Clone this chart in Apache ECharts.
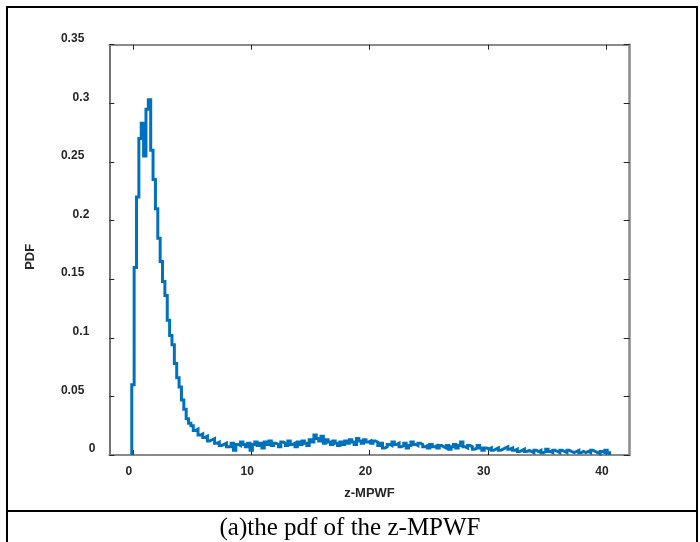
<!DOCTYPE html>
<html>
<head>
<meta charset="utf-8">
<script src="https://cdn.jsdelivr.net/npm/echarts@6/dist/echarts.min.js"></script>
<style>
html,body{margin:0;padding:0;background:#fff;}
#chart{width:700px;height:542px;}
</style>
</head>
<body>
<div id="chart"></div>
<script>
// Histogram (PDF) of z-MPWF: bins start at binStart, each binWidth wide
const binStart = -0.1;
const binWidth = 0.2;
const pdfHead = [
  0.06, 0.16, 0.22, 0.27, 0.283, 0.255, 0.295, 0.303, 0.26, 0.235,
  0.21, 0.185, 0.165, 0.148, 0.136, 0.115, 0.102, 0.094, 0.078, 0.066,
  0.058, 0.047, 0.039, 0.031, 0.027, 0.025, 0.021, 0.022, 0.017, 0.018,
  0.015, 0.016, 0.012, 0.013, 0.014, 0.010, 0.011, 0.008, 0.009, 0.010,
  0.007
];
const pdfTail = [
  0.007, 0.010, 0.004, 0.009, 0.008, 0.011, 0.009, 0.007, 0.010, 0.004,
  0.009, 0.011, 0.008, 0.010, 0.006, 0.011, 0.009, 0.012, 0.008, 0.010,
  0.009, 0.007, 0.011, 0.010, 0.008, 0.012, 0.009, 0.010, 0.007, 0.011,
  0.009, 0.012, 0.010, 0.008, 0.013, 0.011, 0.017, 0.014, 0.012, 0.016,
  0.010, 0.013, 0.011, 0.009, 0.012, 0.010, 0.008, 0.011, 0.009, 0.012,
  0.010, 0.013, 0.011, 0.009, 0.014, 0.012, 0.010, 0.013, 0.011, 0.012,
  0.010, 0.012, 0.011, 0.008, 0.010, 0.006, 0.007, 0.009, 0.008, 0.011,
  0.009, 0.010, 0.007, 0.008, 0.010, 0.006, 0.008, 0.011, 0.009, 0.008,
  0.010, 0.009, 0.007, 0.008, 0.006, 0.009, 0.007, 0.008, 0.006, 0.008,
  0.007, 0.006, 0.008, 0.005, 0.007, 0.009, 0.006, 0.008, 0.011, 0.007,
  0.006, 0.008, 0.007, 0.005, 0.006, 0.008, 0.006, 0.004, 0.006, 0.005,
  0.006, 0.004, 0.005, 0.006, 0.004, 0.005, 0.006, 0.007, 0.005, 0.006,
  0.004, 0.005, 0.003, 0.004, 0.005, 0.003, 0.004, 0.003, 0.002, 0.004,
  0.003, 0.004, 0.002, 0.003, 0.005, 0.003, 0.002, 0.004, 0.003, 0.002,
  0.004, 0.003, 0.002, 0.004, 0.003, 0.002, 0.003, 0.004, 0.002, 0.003,
  0.002, 0.003, 0.002, 0.004, 0.003, 0.002, 0.001, 0.003, 0.002, 0.004,
  0.002
];
const pdfValues = pdfHead.concat(pdfTail);

const xTickValues = [0, 10, 20, 30, 40];
const xTickLabels = ['0', '10', '20', '30', '40'];
const yTickLabels = ['0', '0.05', '0.1', '0.15', '0.2', '0.25', '0.3', '0.35'];
const xAxisTitle = 'z-MPWF';
const yAxisTitle = 'PDF';
const captionText = '(a)the pdf of the z-MPWF';

// stair points: left edge of each bin, closing at the last right edge
const stairData = [[binStart, 0]];
pdfValues.forEach((v, i) => stairData.push([binStart + i * binWidth, v]));
stairData.push([binStart + pdfValues.length * binWidth, 0]);

const sansFont = 'Liberation Sans, Arial, sans-serif';
const labelColor = '#262626';

const chart = echarts.init(document.getElementById('chart'), null, {renderer: 'canvas'});

function yLabel(value) {
  const s = yTickLabels[Math.round(value / 0.05)] || '';
  return '{l' + s.length + '|' + s + '}';
}
const richBase = {fontFamily: sansFont, fontWeight: 'bold', fontSize: 12, color: labelColor};

chart.setOption({
  animation: false,
  backgroundColor: '#fff',
  title: {
    text: captionText,
    left: 'center',
    top: 511,
    textStyle: {fontFamily: 'Liberation Serif, Times New Roman, serif', fontWeight: 'normal', fontSize: 25, color: '#000'}
  },
  graphic: [
    {type: 'rect', shape: {x: 7, y: 7, width: 690, height: 560}, style: {fill: 'none', stroke: '#000', lineWidth: 2}, silent: true},
    {type: 'line', shape: {x1: 7, y1: 511, x2: 697, y2: 511}, style: {stroke: '#000', lineWidth: 2}, silent: true}
  ],
  grid: {left: 109.3, top: 44.7, right: 70.3, bottom: 87, containLabel: false},
  xAxis: [
    {
      type: 'value', position: 'bottom', min: -2, max: 42,
      name: xAxisTitle, nameLocation: 'middle', nameGap: 32,
      nameTextStyle: {fontFamily: sansFont, fontWeight: 'bold', fontSize: 13, color: labelColor},
      axisLine: {show: true, onZero: false, lineStyle: {color: '#8a8a8a', width: 2}},
      axisTick: {show: true, inside: true, length: 5, customValues: xTickValues, lineStyle: {color: labelColor, width: 1}},
      axisLabel: {
        show: true, margin: 11, customValues: xTickValues,
        formatter: v => xTickLabels[xTickValues.indexOf(v)] || '',
        fontFamily: sansFont, fontWeight: 'bold', fontSize: 12, color: labelColor,
        padding: [0, 8, 0, 0]
      },
      splitLine: {show: false}
    },
    {
      type: 'value', position: 'top', min: -2, max: 42,
      axisLine: {show: true, onZero: false, lineStyle: {color: '#8a8a8a', width: 2}},
      axisTick: {show: true, inside: true, length: 5, customValues: xTickValues, lineStyle: {color: labelColor, width: 1}},
      axisLabel: {show: false},
      splitLine: {show: false}
    }
  ],
  yAxis: [
    {
      type: 'value', position: 'left', min: 0, max: 0.35, interval: 0.05,
      name: yAxisTitle, nameLocation: 'middle', nameGap: 72, nameRotate: 90,
      nameTextStyle: {fontFamily: sansFont, fontWeight: 'bold', fontSize: 13, color: labelColor, padding: [0, 14, 0, 0]},
      axisLine: {show: true, onZero: false, lineStyle: {color: '#444', width: 1.5}},
      axisTick: {show: true, inside: true, length: 5, lineStyle: {color: labelColor, width: 1}},
      axisLabel: {
        show: true, margin: 14, align: 'right', formatter: yLabel,
        rich: {
          l1: Object.assign({padding: [0, 0, 12, 0]}, richBase),
          l3: Object.assign({padding: [0, 6, 12, 0]}, richBase),
          l4: Object.assign({padding: [0, 11, 12, 0]}, richBase)
        }
      },
      splitLine: {show: false}
    },
    {
      type: 'value', position: 'right', min: 0, max: 0.35, interval: 0.05,
      axisLine: {show: true, onZero: false, lineStyle: {color: '#8a8a8a', width: 2.5}},
      axisTick: {show: true, inside: true, length: 6, lineStyle: {color: labelColor, width: 1}},
      axisLabel: {show: false},
      splitLine: {show: false}
    }
  ],
  series: [{
    type: 'line',
    xAxisIndex: 0, yAxisIndex: 0,
    data: stairData,
    step: 'end',
    symbol: 'none',
    clip: true,
    lineStyle: {color: '#0072BD', width: 3, join: 'miter'}
  }]
});
</script>
</body>
</html>
